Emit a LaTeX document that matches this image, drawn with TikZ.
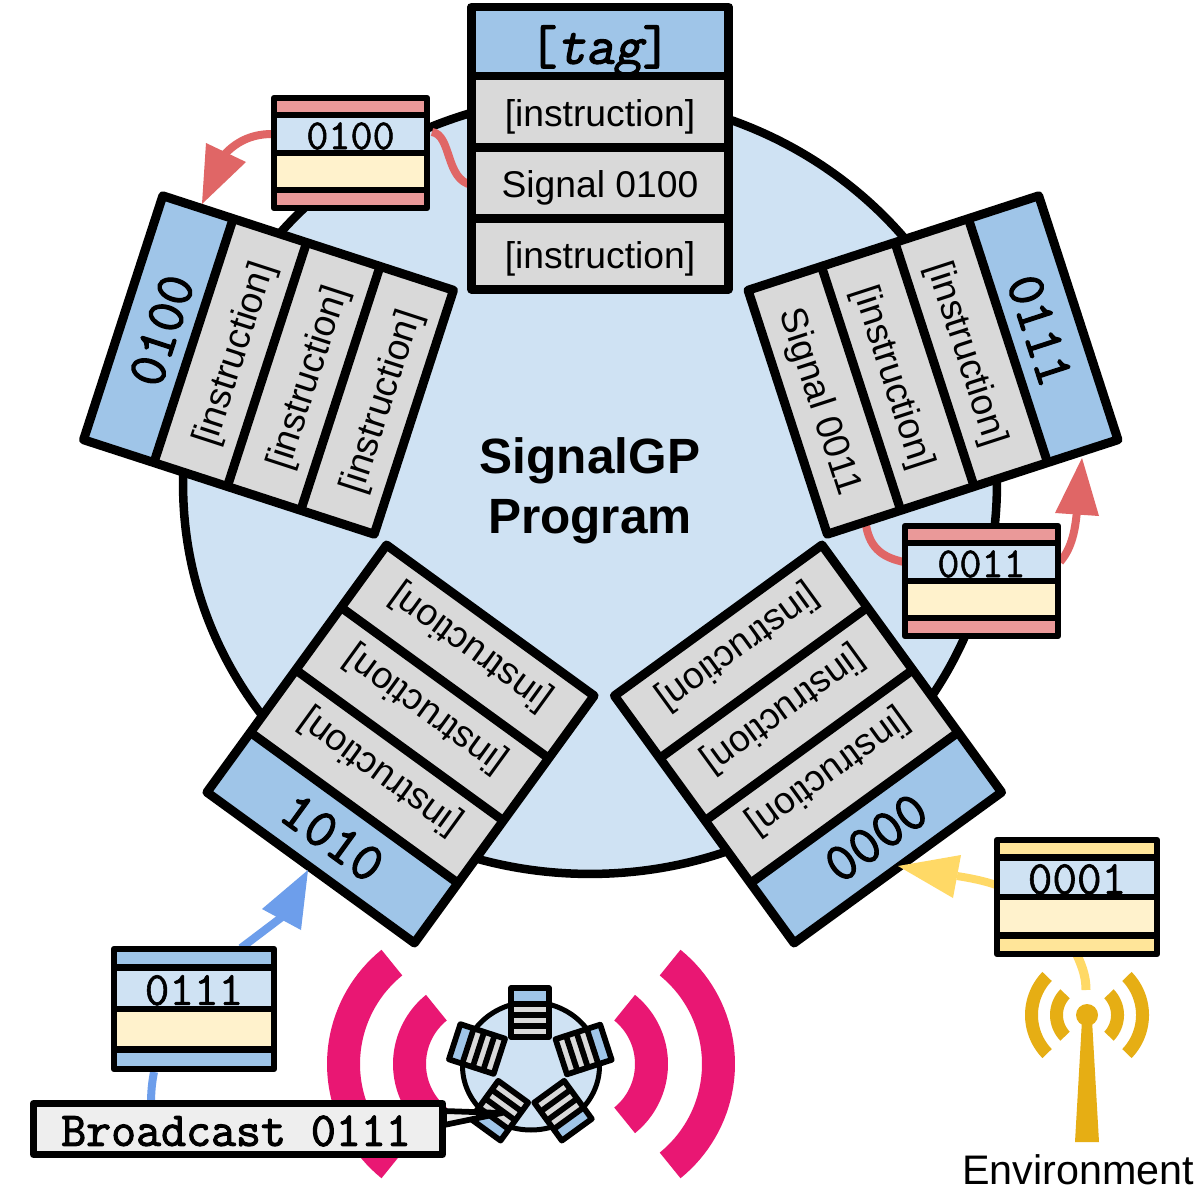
\documentclass[tikz,border=0pt]{standalone}
\usepackage{fontspec}
\setmainfont{Liberation Sans}
\newfontfamily\tagmono[FakeBold=2.2]{Latin Modern Mono}
\newfontfamily\tagslant[FakeBold=2.2,FakeSlant=.2]{Latin Modern Mono}
\newfontfamily\msgmono[FakeBold=1.2]{Latin Modern Mono}
\definecolor{cfill}{HTML}{CFE2F3}
\definecolor{chead}{HTML}{9FC5E8}
\definecolor{crow}{HTML}{D9D9D9}
\definecolor{ccream}{HTML}{FFF2CC}
\definecolor{cpink}{HTML}{EA9999}
\definecolor{cred}{HTML}{E06666}
\definecolor{cyel}{HTML}{FFD966}
\definecolor{cyelb}{HTML}{FFE599}
\definecolor{cblue}{HTML}{6D9EEB}
\definecolor{cmag}{HTML}{E91773}
\definecolor{cgold}{HTML}{E6AE14}
\definecolor{cbox}{HTML}{EEEEEE}
\tikzset{
  ink/.style={draw=black,line width=.18cm,line join=round},
  minink/.style={draw=black,line width=.115cm,line join=round},
  msgink/.style={draw=black,line width=.13cm,line join=round},
  rowtext/.style={font=\fontsize{21.2}{24}\selectfont,inner sep=0pt,text height=.78cm,text depth=.16cm},
  tagtext/.style={font=\fontsize{31.3}{34}\selectfont\tagmono,inner sep=0pt},
  msgtext/.style={font=\fontsize{24.4}{26}\selectfont\msgmono,inner sep=0pt},
  msgtextb/.style={font=\fontsize{27.2}{28}\selectfont\msgmono,inner sep=0pt},
  titletext/.style={font=\fontsize{28.2}{34}\selectfont\bfseries,align=center,inner sep=0pt},
  stem/.style={line width=.16cm},
}
% name, cx, cy, rot, W, header, row, tagrot, tag, r1, r2, r3
\newcommand\blk[9]{%
  \def\bn{#1}\def\bcx{#2}\def\bcy{#3}\def\brot{#4}\def\bw{#5}\def\bh{#6}\def\br{#7}\def\btr{#8}\def\btag{#9}%
  \blkrest}
\newcommand\blkrest[3]{%
  \begin{scope}[shift={(\bcx,\bcy)},rotate=\brot]
    \pgfmathsetmacro\hw{\bw/2}
    \pgfmathsetmacro\tp{-(\bh+3*\br)/2}
    \pgfmathsetmacro\ya{\tp+\bh}
    \pgfmathsetmacro\yb{\ya+\br}
    \pgfmathsetmacro\yc{\yb+\br}
    \pgfmathsetmacro\yd{\yc+\br}
    \fill[chead] (-\hw,\tp) rectangle (\hw,\ya);
    \fill[crow] (-\hw,\ya) rectangle (\hw,\yd);
    \draw[ink] (-\hw,\tp) rectangle (\hw,\yd);
    \draw[ink] (-\hw,\ya) -- (\hw,\ya) (-\hw,\yb) -- (\hw,\yb) (-\hw,\yc) -- (\hw,\yc);
    \node[tagtext,rotate=\btr] (\bn-tag) at (0,{(\tp+\ya)/2}) {\btag};
    \node[rowtext,rotate=\brot] (\bn-a) at (0,{(\ya+\yb)/2}) {#1};
    \node[rowtext,rotate=\brot] (\bn-b) at (0,{(\yb+\yc)/2}) {#2};
    \node[rowtext,rotate=\brot] (\bn-c) at (0,{(\yc+\yd)/2}) {#3};
  \end{scope}}
% cx, cy, rot, W, header, row
\newcommand\miniblk[6]{%
  \begin{scope}[shift={(#1,#2)},rotate=#3]
    \pgfmathsetmacro\hw{#4/2}
    \pgfmathsetmacro\tp{-(#5+3*#6)/2}
    \pgfmathsetmacro\ya{\tp+#5}
    \pgfmathsetmacro\yb{\ya+#6}
    \pgfmathsetmacro\yc{\yb+#6}
    \pgfmathsetmacro\yd{\yc+#6}
    \fill[chead] (-\hw,\tp) rectangle (\hw,\ya);
    \fill[crow] (-\hw,\ya) rectangle (\hw,\yd);
    \draw[minink] (-\hw,\tp) rectangle (\hw,\yd);
    \draw[minink] (-\hw,\ya) -- (\hw,\ya) (-\hw,\yb) -- (\hw,\yb) (-\hw,\yc) -- (\hw,\yc);
  \end{scope}}
% name, cx, cy, W, H, strip colour, text style, text
\newcommand\msg[8]{%
  \begin{scope}[shift={(#2,#3)}]
    \pgfmathsetmacro\hw{#4/2}
    \pgfmathsetmacro\hh{#5/2}
    \pgfmathsetmacro\la{-\hh+.155*#5}
    \pgfmathsetmacro\lb{-\hh+.5*#5}
    \pgfmathsetmacro\lc{-\hh+.836*#5}
    \fill[#6] (-\hw,-\hh) rectangle (\hw,\la);
    \fill[cfill] (-\hw,\la) rectangle (\hw,\lb);
    \fill[ccream] (-\hw,\lb) rectangle (\hw,\lc);
    \fill[#6] (-\hw,\lc) rectangle (\hw,\hh);
    \draw[msgink] (-\hw,-\hh) rectangle (\hw,\hh);
    \draw[msgink] (-\hw,\la) -- (\hw,\la) (-\hw,\lb) -- (\hw,\lb) (-\hw,\lc) -- (\hw,\lc);
    \node[#7] (#1) at (0,{(\la+\lb)/2+2}) {#8};
  \end{scope}}
% arc sector: cx, cy, r in, r out, centre angle, half-span, colour
\newcommand\sector[7]{%
  \begin{scope}[shift={(#1,#2)}]
    \fill[#7] plot[domain={#5-#6}:{#5+#6},samples=40] ({#4*cos(\x)},{#4*sin(\x)})
      -- plot[domain={#5+#6}:{#5-#6},samples=40] ({#3*cos(\x)},{#3*sin(\x)}) -- cycle;
  \end{scope}}
\begin{document}
\begin{tikzpicture}[x=.02cm,y=-.02cm]
\useasboundingbox (0,0) rectangle (1200,1200);
\fill[white] (0,0) rectangle (1200,1200);
% program body
\draw[ink,line width=.17cm,fill=cfill] (590,485) ellipse [x radius=8.14cm,y radius=7.78cm];
\node[titletext] (title) at (590,491) {SignalGP\\Program};
% incoming signal curves under the blocks
\coordinate (sa) at (432,132); \coordinate (sb) at (472,185);
\draw[stem,cred] (sa) .. controls (452,135) and (445,180) .. (sb);
\coordinate (sc) at (904,562); \coordinate (sd) at (866,525);
\draw[stem,cred] (sc) .. controls (885,558) and (870,550) .. (sd);
% blocks
\blk{b1}{600}{148}{0}{257}{69}{71}{0}{\rule{0pt}{1.14cm}[{\tagslant tag}]}{[instruction]}{Signal 0100}{[instruction]}
\blk{b2}{268.5}{365}{72}{256.5}{74}{77.2}{72}{\rule{0pt}{.83cm}0100}{[instruction]}{[instruction]}{[instruction]}
\blk{b3}{933}{365}{-72}{256.5}{74}{77.2}{-72}{\rule{0pt}{.83cm}0111}{[instruction]}{[instruction]}{Signal 0011}
\blk{b4}{808}{744}{216}{256.5}{74}{77.2}{36}{0000}{[instruction]}{[instruction]}{[instruction]}
\blk{b5}{400.5}{744}{144}{256.5}{74}{77.2}{-36}{1010}{[instruction]}{[instruction]}{[instruction]}
% message to 0100
\coordinate (e1) at (272,134); \coordinate (e2) at (224,155);
\draw[stem,cred] (e1) .. controls (250,134) and (235,143) .. (e2);
\coordinate (h1) at (202,204);
\fill[cred] (h1) -- (206,143) -- (246,162) -- cycle;
\msg{m1}{350.5}{153}{153}{110}{cpink}{msgtext}{0100}
% message to 0111
\coordinate (e3) at (1060,562); \coordinate (e4) at (1077,510);
\draw[stem,cred] (e3) .. controls (1070,550) and (1075,535) .. (e4);
\coordinate (h2) at (1082,458);
\fill[cred] (h2) -- (1055,513) -- (1099,516) -- cycle;
\msg{m2}{981.5}{581}{153}{110}{cpink}{msgtext}{0011}
% environment
\coordinate (e5) at (996,885); \coordinate (e6) at (957,876);
\draw[stem,cyel] (e5) .. controls (985,881) and (970,878) .. (e6);
\coordinate (h3) at (898,866);
\fill[cyel] (h3) -- (961,855) -- (953,898) -- cycle;
\coordinate (e7) at (1077,955); \coordinate (e8) at (1086,990);
\draw[line width=.18cm,cyel] (e7) .. controls (1083,968) and (1086,978) .. (e8);
\msg{m3}{1077}{897}{160}{114}{cyelb}{msgtextb}{0001}
\sector{1087}{1015}{24}{37}{0}{44}{cgold}
\sector{1087}{1015}{24}{37}{180}{44}{cgold}
\sector{1087}{1015}{49}{62}{0}{44}{cgold}
\sector{1087}{1015}{49}{62}{180}{44}{cgold}
\fill[cgold] (1087,1015) circle [radius=.22cm];
\fill[cgold] (1082,1020) -- (1092,1020) -- (1099,1142) -- (1075,1142) -- cycle;
\node[inner sep=0pt,font=\fontsize{23.5}{26}\selectfont] (env) at (1078,1170) {Environment};
% broadcast icon
\sector{588}{1064}{114}{147}{0}{51}{cmag}
\sector{474}{1064}{114}{147}{180}{51}{cmag}
\sector{579}{1064}{56}{89}{0}{51}{cmag}
\sector{482}{1064}{56}{89}{180}{51}{cmag}
\draw[minink,fill=cfill,line width=.1cm] (531,1066) ellipse [x radius=1.37cm,y radius=1.28cm];
\miniblk{530}{1012.5}{0}{38}{16}{11}
\miniblk{477}{1049}{72}{37}{14}{11}
\miniblk{583.6}{1049.5}{-72}{37}{14}{11}
\miniblk{563}{1110.7}{216}{37}{14}{11}
\miniblk{499.4}{1110.7}{144}{37}{14}{11}
% message 0111
\coordinate (e9) at (241,948); \coordinate (e10) at (282,917);
\draw[stem,cblue] (e9) -- (e10);
\coordinate (h4) at (308,870);
\fill[cblue] (h4) -- (262,909) -- (301,930) -- cycle;
\coordinate (e11) at (154,1072); \coordinate (e12) at (151,1104);
\draw[stem,cblue] (e11) .. controls (152,1082) and (151,1092) .. (e12);
\msg{m4}{194}{1009}{160}{120}{chead}{msgtextb}{0111}
% broadcast label
\draw[minink,fill=cbox] (444,1111) -- (502,1113) -- (444,1125) -- cycle;
\draw[msgink,line width=.145cm,fill=cbox] (33.5,1103.5) rectangle (442.5,1154.5);
\node[inner sep=0pt,font=\fontsize{27.6}{30}\selectfont\tagmono] (bc) at (236,1131) {Broadcast 0111};
\end{tikzpicture}
\end{document}
